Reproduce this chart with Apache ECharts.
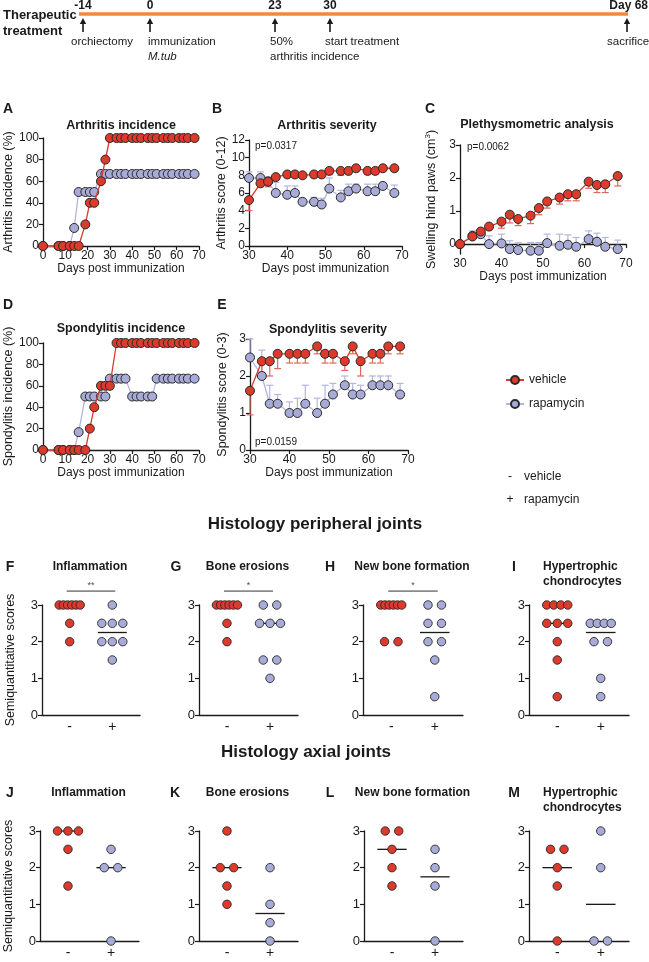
<!DOCTYPE html>
<html><head><meta charset="utf-8">
<script src="https://cdn.jsdelivr.net/npm/echarts@6/dist/echarts.min.js"></script>
<style>html,body{margin:0;padding:0;background:#fff}#c{width:649px;height:962px}</style>
</head><body><div id="c"></div>
<script>
// ---------------- DATA ----------------
const incDays = [0,7,9,12,14,16,19,21,23,26,28,30,33,35,37,40,42,44,47,49,51,54,56,58,61,63,65,68];
const arthIncVehicle = [0,0,0,0,0,0,20,40,40,60,80,100,100,100,100,100,100,100,100,100,100,100,100,100,100,100,100,100];
const arthIncRapa    = [0,0,0,0,16.7,50,50,50,50,66.7,66.7,66.7,66.7,66.7,66.7,66.7,66.7,66.7,66.7,66.7,66.7,66.7,66.7,66.7,66.7,66.7,66.7,66.7];
const spondIncVehicle = [0,0,0,0,0,0,0,20,40,60,60,60,100,100,100,100,100,100,100,100,100,100,100,100,100,100,100,100];
const spondIncRapa    = [0,0,0,0,0,16.7,50,50,50,50,50,66.7,66.7,66.7,66.7,50,50,50,50,50,66.7,66.7,66.7,66.7,66.7,66.7,66.7,66.7];

const sevDays = [30,33,35,37,40,42,44,47,49,51,54,56,58,61,63,65,68];
const arthSevVehicle    = [5.2,7.1,7.3,7.8,8.1,8.1,8.0,8.1,8.1,8.5,8.5,8.5,8.8,8.5,8.5,8.8,8.8];
const arthSevVehicleSem = [1.2,0.4,0.6,0.3,0.3,0.3,0.3,0.3,0.3,0.4,0.5,0.4,0.3,0.4,0.4,0.3,0.3];
const arthSevRapa       = [7.7,7.7,7.3,6.0,5.8,6.0,5.0,5.0,4.7,6.5,5.5,6.2,6.5,6.2,6.2,6.8,6.0];
const arthSevRapaSem    = [0.7,0.7,0.5,1.2,1.0,0.8,0.4,0.5,0.7,1.2,0.8,0.8,0.5,0.8,0.8,0.4,0.9];

const plethVehicle    = [0,0.23,0.38,0.53,0.68,0.89,0.76,0.86,1.09,1.29,1.41,1.51,1.51,1.89,1.79,1.81,2.06];
const plethVehicleSem = [0,0.05,0.1,0.1,0.2,0.25,0.2,0.24,0.2,0.2,0.2,0.2,0.2,0.2,0.23,0.25,0.3];
const plethRapa       = [0,0.25,0.3,0,0.02,-0.15,-0.18,-0.2,-0.2,0.03,-0.05,-0.02,-0.08,0.15,0.07,-0.08,-0.15];
const plethRapaSem    = [0,0.15,0.12,0.25,0.28,0.25,0.22,0.25,0.25,0.27,0.35,0.3,0.28,0.25,0.26,0.28,0.27];

const spondSevVehicle    = [1.6,2.4,2.4,2.6,2.6,2.6,2.6,2.8,2.6,2.6,2.4,2.8,2.4,2.6,2.6,2.8,2.8];
const spondSevVehicleSem = [0.65,0.3,0.4,0.4,0.25,0.25,0.25,0.2,0.25,0.25,0.25,0.2,0.4,0.25,0.25,0.2,0.2];
const spondSevRapa       = [2.5,2.0,1.25,1.25,1.0,1.0,1.25,1.0,1.25,1.5,1.75,1.5,1.5,1.75,1.75,1.75,1.5];
const spondSevRapaSem    = [0.5,0.7,0.5,0.25,0.3,0.4,0.5,0.4,0.5,0.3,0.25,0.3,0.25,0.25,0.25,0.25,0.3];

// histology scores (vehicle = "-", rapamycin = "+")
const periphInflVeh  = [3,3,3,3,3,3,2.5,2];
const periphInflRapa = [3,2.5,2.5,2.5,2,2,2,1.5];
const periphEroVeh   = [3,3,3,3,3,3,2.5,2];
const periphEroRapa  = [3,3,2.5,2.5,2.5,1.5,1.5,1];
const periphNbfVeh   = [3,3,3,3,3,3,2,2];
const periphNbfRapa  = [3,3,2.5,2.5,2,2,1.5,0.5];
const periphHypVeh   = [3,3,3,3,2.5,2.5,2.5,2,1.5,0.5];
const periphHypRapa  = [2.5,2.5,2.5,2.5,2,2,1,0.5];
const axialInflVeh   = [3,3,3,2.5,1.5];
const axialInflRapa  = [2.5,2,2,0];
const axialEroVeh    = [3,2,2,1.5,1];
const axialEroRapa   = [2,1,0.5,0];
const axialNbfVeh    = [3,3,2.5,2,1.5];
const axialNbfRapa   = [2.5,2,1.5,0];
const axialHypVeh    = [2.5,2.5,2,1.5,0];
const axialHypRapa   = [3,2,0,0];

const groupTicks = ['-', '+'];
const axisTicks3 = [0,1,2,3];

// ---------------- STYLE ----------------
const RED='#dc3a2b', RED_LINE='#da3a2c', RED_ERR='#e2685b';
const BLUE='#a8abd8', BLUE_LINE='#b2b4de', BLUE_ERR='#b3b6e0';
const INK='#1a1a1a';
const FONT='"Liberation Sans", Arial, sans-serif';

function merge(a,b){const o=Array.isArray(a)?[...a]:{...a};for(const k in b){if(b[k]&&typeof b[k]==='object'&&!Array.isArray(b[k])&&a[k]&&typeof a[k]==='object')o[k]=merge(a[k],b[k]);else o[k]=b[k];}return o;}
const axisBase = {
  axisLine:{show:true,onZero:false,lineStyle:{color:INK,width:1.3}},
  axisTick:{show:true,length:4,lineStyle:{color:INK,width:1.2}},
  axisLabel:{color:INK,fontSize:12,fontFamily:FONT,margin:4},
  splitLine:{show:false},
  nameTextStyle:{color:INK,fontSize:12,fontFamily:FONT},
  nameLocation:'middle'
};

const grids=[], xAxes=[], yAxes=[], series=[], graphics=[];
function text(t,x,y,o){graphics.push(merge({type:'text',x,y,style:{text:t,fill:INK,font:'12px '+FONT,textAlign:'left',textVerticalAlign:'middle'}},o||{}));}

// ---------------- TIME-COURSE PANELS ----------------
const tsPanels = [
 {grid:{left:43,top:138,width:156,height:108}, x:{min:0,max:70,interval:10}, y:{min:0,max:100,interval:20,name:'Arthritis incidence (%)',nameGap:25}, days:incDays, veh:arthIncVehicle, rapa:arthIncRapa},
 {grid:{left:249,top:140,width:153,height:106}, x:{min:30,max:70,interval:10}, y:{min:0,max:12,interval:2,name:'Arthritis score (0-12)',nameGap:21}, days:sevDays, veh:arthSevVehicle, rapa:arthSevRapa, vehSem:arthSevVehicleSem, rapaSem:arthSevRapaSem},
 {grid:{left:460,top:145,width:166,height:109}, x:{min:30,max:70,interval:10,onZero:true}, y:{min:-0.3,max:3,custom:axisTicks3,name:'Swelling hind paws (cm{sup|3})',nameGap:21}, days:sevDays, veh:plethVehicle, rapa:plethRapa, vehSem:plethVehicleSem, rapaSem:plethRapaSem},
 {grid:{left:43,top:343,width:156,height:107}, x:{min:0,max:70,interval:10}, y:{min:0,max:100,interval:20,name:'Spondylitis incidence (%)',nameGap:25}, days:incDays, veh:spondIncVehicle, rapa:spondIncRapa},
 {grid:{left:250,top:339,width:158,height:111}, x:{min:30,max:70,interval:10}, y:{min:0,max:3,interval:1,name:'Spondylitis score (0-3)',nameGap:21}, days:sevDays, veh:spondSevVehicle, rapa:spondSevRapa, vehSem:spondSevVehicleSem, rapaSem:spondSevRapaSem}
];

function errSeries(gi, days, vals, sems, dir, color){
  return {type:'custom', name:'err'+gi+dir, xAxisIndex:gi, yAxisIndex:gi, z:2, silent:true,
    data: days.map((d,i)=>[d, vals[i], vals[i]+dir*sems[i]]),
    encode:{x:0,y:[1,2]},
    renderItem:(params, api)=>{
      const p0=api.coord([api.value(0),api.value(1)]);
      const p1=api.coord([api.value(0),api.value(2)]);
      const w=3.5;
      return {type:'group',children:[
        {type:'line',shape:{x1:p0[0],y1:p0[1],x2:p1[0],y2:p1[1]},style:{stroke:color,lineWidth:1.2}},
        {type:'line',shape:{x1:p1[0]-w,y1:p1[1],x2:p1[0]+w,y2:p1[1]},style:{stroke:color,lineWidth:1.2}}
      ]};
    }};
}

tsPanels.forEach((p,gi)=>{
  grids.push(p.grid);
  const xa = merge(axisBase,{gridIndex:gi,type:'value',min:p.x.min,max:p.x.max,interval:p.x.interval,
    name:'Days post immunization',nameGap:17});
  if(p.x.onZero){xa.axisLine=merge(xa.axisLine,{onZero:true});}
  xAxes.push(xa);
  const ya = merge(axisBase,{gridIndex:gi,type:'value',min:p.y.min,max:p.y.max,name:p.y.name,nameGap:p.y.nameGap,
    nameTextStyle:{fontSize:12.5,rich:{sup:{fontSize:8,padding:[0,0,7,0],fontFamily:FONT,color:INK}}}});
  if(p.y.custom){ya.axisLabel=merge(ya.axisLabel,{customValues:p.y.custom});ya.axisTick=merge(ya.axisTick,{customValues:p.y.custom});}
  else ya.interval=p.y.interval;
  yAxes.push(ya);
  if(p.rapaSem) series.push(errSeries(gi,p.days,p.rapa,p.rapaSem,1,BLUE_ERR));
  if(p.vehSem) series.push(errSeries(gi,p.days,p.veh,p.vehSem,-1,RED_ERR));
  series.push({type:'line',name:'rapamycin',xAxisIndex:gi,yAxisIndex:gi,z:3,
    data:p.days.map((d,i)=>[d,p.rapa[i]]),symbol:'circle',symbolSize:9,showAllSymbol:true,clip:false,
    lineStyle:{color:BLUE_LINE,width:1.3},itemStyle:{color:BLUE,borderColor:'#2a2a2a',borderWidth:1}});
  series.push({type:'line',name:'vehicle',xAxisIndex:gi,yAxisIndex:gi,z:4,
    data:p.days.map((d,i)=>[d,p.veh[i]]),symbol:'circle',symbolSize:9,showAllSymbol:true,clip:false,
    lineStyle:{color:RED_LINE,width:1.3},itemStyle:{color:RED,borderColor:'#2a2a2a',borderWidth:1}});
});

// ---------------- HISTOLOGY PANELS ----------------
const histPanels = [
 {letter:'F',lx:10,title:'Inflammation',veh:periphInflVeh,rapa:periphInflRapa,left:42,top:605,width:98,sig:'**',ylab:true},
 {letter:'G',lx:176,title:'Bone erosions',veh:periphEroVeh,rapa:periphEroRapa,left:199,top:605,width:99,sig:'*'},
 {letter:'H',lx:330,title:'New bone formation',veh:periphNbfVeh,rapa:periphNbfRapa,left:363,top:605,width:100,sig:'*'},
 {letter:'I',lx:514,title:'Hypertrophic\nchondrocytes',veh:periphHypVeh,rapa:periphHypRapa,left:529,top:605,width:100},
 {letter:'J',lx:10,title:'Inflammation',veh:axialInflVeh,rapa:axialInflRapa,left:40,top:831,width:99,ylab:true},
 {letter:'K',lx:175,title:'Bone erosions',veh:axialEroVeh,rapa:axialEroRapa,left:199,top:831,width:99},
 {letter:'L',lx:330,title:'New bone formation',veh:axialNbfVeh,rapa:axialNbfRapa,left:364,top:831,width:99},
 {letter:'M',lx:514,title:'Hypertrophic\nchondrocytes',veh:axialHypVeh,rapa:axialHypRapa,left:529,top:831,width:100}
];
const XMIN=-0.65, XMAX=1.65;
function median(a){const s=[...a].sort((x,y)=>x-y);const n=s.length;return n%2?s[(n-1)/2]:(s[n/2-1]+s[n/2])/2;}
function swarm(vals,center,pxPerUnit){
  const counts={};vals.forEach(v=>counts[v]=(counts[v]||0)+1);
  const seen={};
  return vals.map(v=>{const k=counts[v];const i=(seen[v]=(seen[v]||0)+1)-1;
    const sp=k>1?Math.min(13.5,21/(k-1)):0;return [center+(i-(k-1)/2)*sp/pxPerUnit,v];});
}
histPanels.forEach((p,hi)=>{
  const gi=tsPanels.length+hi;
  grids.push({left:p.left,top:p.top,width:p.width,height:110});
  xAxes.push(merge(axisBase,{gridIndex:gi,type:'value',min:XMIN,max:XMAX,
    axisTick:{show:false},
    axisLabel:{customValues:[0,1],fontSize:14,margin:5,formatter:v=>groupTicks[Math.round(v)]}}));
  yAxes.push(merge(axisBase,{gridIndex:gi,type:'value',min:0,max:3,interval:1,
    axisLabel:{fontSize:13},
    name:p.ylab?'Semiquantitative scores':'',nameGap:25,nameTextStyle:{fontSize:12.5}}));
  const ppu=p.width/(XMAX-XMIN);
  [[p.veh,0,RED],[p.rapa,1,BLUE]].forEach(([vals,c,col])=>{
    const m=median(vals);
    series.push({type:'line',xAxisIndex:gi,yAxisIndex:gi,z:2,symbol:'none',silent:true,clip:false,
      data:[[c-0.34,m],[c+0.34,m]],lineStyle:{color:INK,width:1.3}});
    series.push({type:'scatter',xAxisIndex:gi,yAxisIndex:gi,z:3,symbolSize:8.5,clip:false,
      data:swarm(vals,c,ppu),itemStyle:{color:col,borderColor:'#2a2a2a',borderWidth:0.9,opacity:1}});
  });
  if(p.sig){
    series.push({type:'line',xAxisIndex:gi,yAxisIndex:gi,z:2,symbol:'none',silent:true,clip:false,
      data:[[-0.07,3.38],[1.07,3.38]],lineStyle:{color:'#333',width:1}});
    series.push({type:'scatter',xAxisIndex:gi,yAxisIndex:gi,symbolSize:0,clip:false,silent:true,
      data:[[0.5,3.38]],label:{show:true,position:'top',distance:1,formatter:p.sig,fontSize:9,color:INK,fontFamily:FONT}});
  }
  text(p.letter, p.lx, p.top-38, {style:{font:'bold 14px '+FONT,textAlign:'center'}});
  if(p.title.indexOf('\n')>=0){
    text(p.title, p.left+14, p.top-31, {style:{font:'bold 12px '+FONT, textVerticalAlign:'middle', lineHeight:15}});
  } else {
    text(p.title, p.left+p.width/2-1, p.top-38, {style:{font:'bold 12px '+FONT,textAlign:'center'}});
  }
});

// ---------------- ANNOTATIONS ----------------
[['A',8,109],['B',217,109],['C',430,109],['D',8,305],['E',222,305]].forEach(([t,x,y])=>text(t,x,y,{style:{font:'bold 14px '+FONT,textAlign:'center'}}));
[['Arthritis incidence',121,126],['Arthritis severity',327,126],['Plethysmometric analysis',537,125],['Spondylitis incidence',121,329],['Spondylitis severity',328,330]]
  .forEach(([t,x,y])=>text(t,x,y,{style:{font:'bold 12.5px '+FONT,textAlign:'center'}}));
text('p=0.0317',255,146,{style:{font:'10px '+FONT}});
text('p=0.0062',467,147,{style:{font:'10px '+FONT}});
text('p=0.0159',255,442,{style:{font:'10px '+FONT}});
text('Histology peripheral joints',315,524,{style:{font:'bold 17px '+FONT,textAlign:'center'}});
text('Histology axial joints',306,752,{style:{font:'bold 17px '+FONT,textAlign:'center'}});
text('-',510,477,{style:{font:'12px '+FONT,textAlign:'center'}});
text('vehicle',524,477,{style:{font:'12px '+FONT}});
text('+',510,500,{style:{font:'12px '+FONT,textAlign:'center'}});
text('rapamycin',524,500,{style:{font:'12px '+FONT}});

// timeline
text('Therapeutic',3,15,{style:{font:'bold 13px '+FONT}});
text('treatment',3,31,{style:{font:'bold 13px '+FONT}});
graphics.push({type:'line',shape:{x1:79,y1:14,x2:628,y2:14},style:{stroke:'#ef8843',lineWidth:3.5}});
const tlEvents=[['-14',83],['0',150],['23',275],['30',330],['Day 68',627]];
tlEvents.forEach(([t,x])=>{
  text(t, t==='Day 68'?648:x, 6, {style:{font:'bold 12px '+FONT,textAlign:t==='Day 68'?'right':'center'}});
  graphics.push({type:'line',shape:{x1:x,y1:32,x2:x,y2:22},style:{stroke:INK,lineWidth:1.6}});
  graphics.push({type:'polygon',shape:{points:[[x,18],[x-3.2,24],[x+3.2,24]]},style:{fill:INK}});
});
text('orchiectomy',71,42,{style:{font:'11.5px '+FONT}});
text('immunization',148,42,{style:{font:'11.5px '+FONT}});
text('M.tub',148,57,{style:{font:'italic 11.5px '+FONT}});
text('50%',270,42,{style:{font:'11.5px '+FONT}});
text('arthritis incidence',270,57,{style:{font:'11.5px '+FONT}});
text('start treatment',325,42,{style:{font:'11.5px '+FONT}});
text('sacrifice',607,42,{style:{font:'11.5px '+FONT}});

const chart = echarts.init(document.getElementById('c'),null,{renderer:'canvas'});
chart.setOption({
  animation:false,
  backgroundColor:'#fff',
  grid:grids, xAxis:xAxes, yAxis:yAxes, series,
  legend:{data:['vehicle','rapamycin'],orient:'vertical',left:500,top:369,itemWidth:18,itemHeight:10,itemGap:12,
    textStyle:{fontSize:12,color:INK,fontFamily:FONT},selectedMode:false},
  graphic:graphics
});
</script></body></html>
